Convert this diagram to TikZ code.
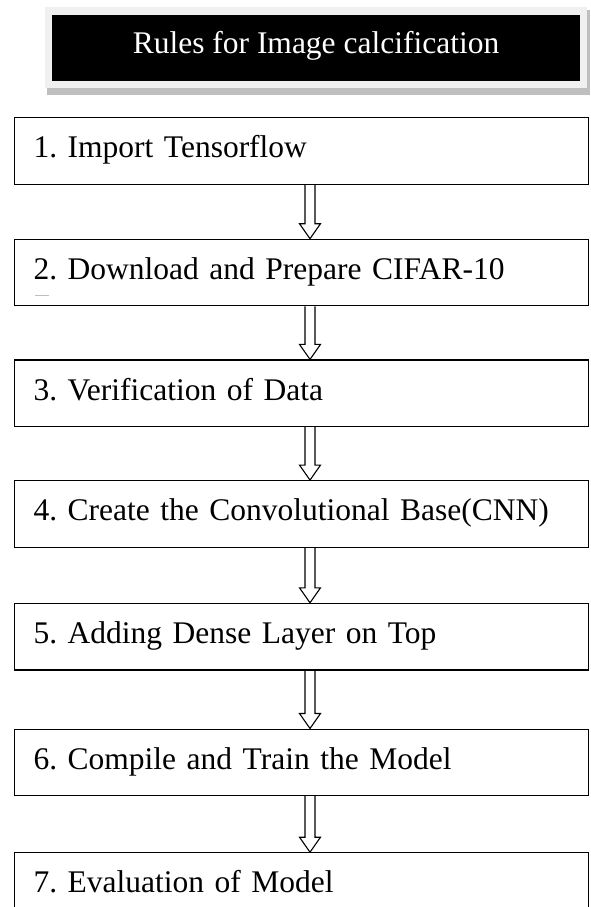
\documentclass[tikz,border=0pt]{standalone}
\usepackage{fontspec}
\setmainfont{Liberation Serif}
\usetikzlibrary{positioning,calc}
\definecolor{framegray}{RGB}{240,240,240}
\definecolor{shadegray}{RGB}{191,191,191}

% hollow arrow from one step box down to the next
\newcommand{\steparrow}[2]{%
  \draw[flowline] ($(#1.south west)+(291,0)$) -- ($(#2.north west)+(291,-15)$)
    -- ++(-5.5,0) -- ($(#2.north west)+(296,0)$) -- ++(10.5,-15) -- ++(-5.5,0)
    -- ($(#1.south west)+(301,0)$);}

\begin{document}
\frenchspacing
\begin{tikzpicture}[x=1pt,y=-1pt,
    every node/.style={font=\fontsize{31.5}{38}\selectfont},
    stepbox/.style={draw,line width=1.2pt,anchor=north west,minimum width=574pt,
      minimum height=66.5pt,text width=536pt,inner xsep=19pt,align=left,
      text height=21pt,text depth=7.5pt},
    titlebox/.style={fill=black,text=white,minimum width=528pt,minimum height=66pt,
      text height=21pt,text depth=10pt},
    flowline/.style={line width=1.1pt,line join=miter}]
  \useasboundingbox (0,0) rectangle (590,907);
  % title with its frame and shadow
  \fill[shadegray] (47,10) rectangle (590,95);
  \fill[framegray] (45,7) rectangle (587,88);
  \node[titlebox] (title) at (316,48) {Rules for Image calcification};
  % steps
  \node[stepbox] (step1) at (14,117) {1. Import Tensorflow};
  \node[stepbox,below=54pt of step1.south west,anchor=north west] (step2) {2. Download and Prepare CIFAR-10};
  \node[stepbox,below=53pt of step2.south west,anchor=north west] (step3) {3. Verification of Data};
  \node[stepbox,below=53pt of step3.south west,anchor=north west] (step4) {4. Create the Convolutional Base(CNN)};
  \node[stepbox,below=55pt of step4.south west,anchor=north west] (step5) {5. Adding Dense Layer on Top};
  \node[stepbox,below=58pt of step5.south west,anchor=north west] (step6) {6. Compile and Train the Model};
  \node[stepbox,below=56pt of step6.south west,anchor=north west] (step7) {7. Evaluation of Model};
  \draw[gray!50,line width=0.8pt] ($(step2.south west)+(21,-11)$) -- ++(14,0);
  % arrows
  \steparrow{step1}{step2}
  \steparrow{step2}{step3}
  \steparrow{step3}{step4}
  \steparrow{step4}{step5}
  \steparrow{step5}{step6}
  \steparrow{step6}{step7}
\end{tikzpicture}
\end{document}
